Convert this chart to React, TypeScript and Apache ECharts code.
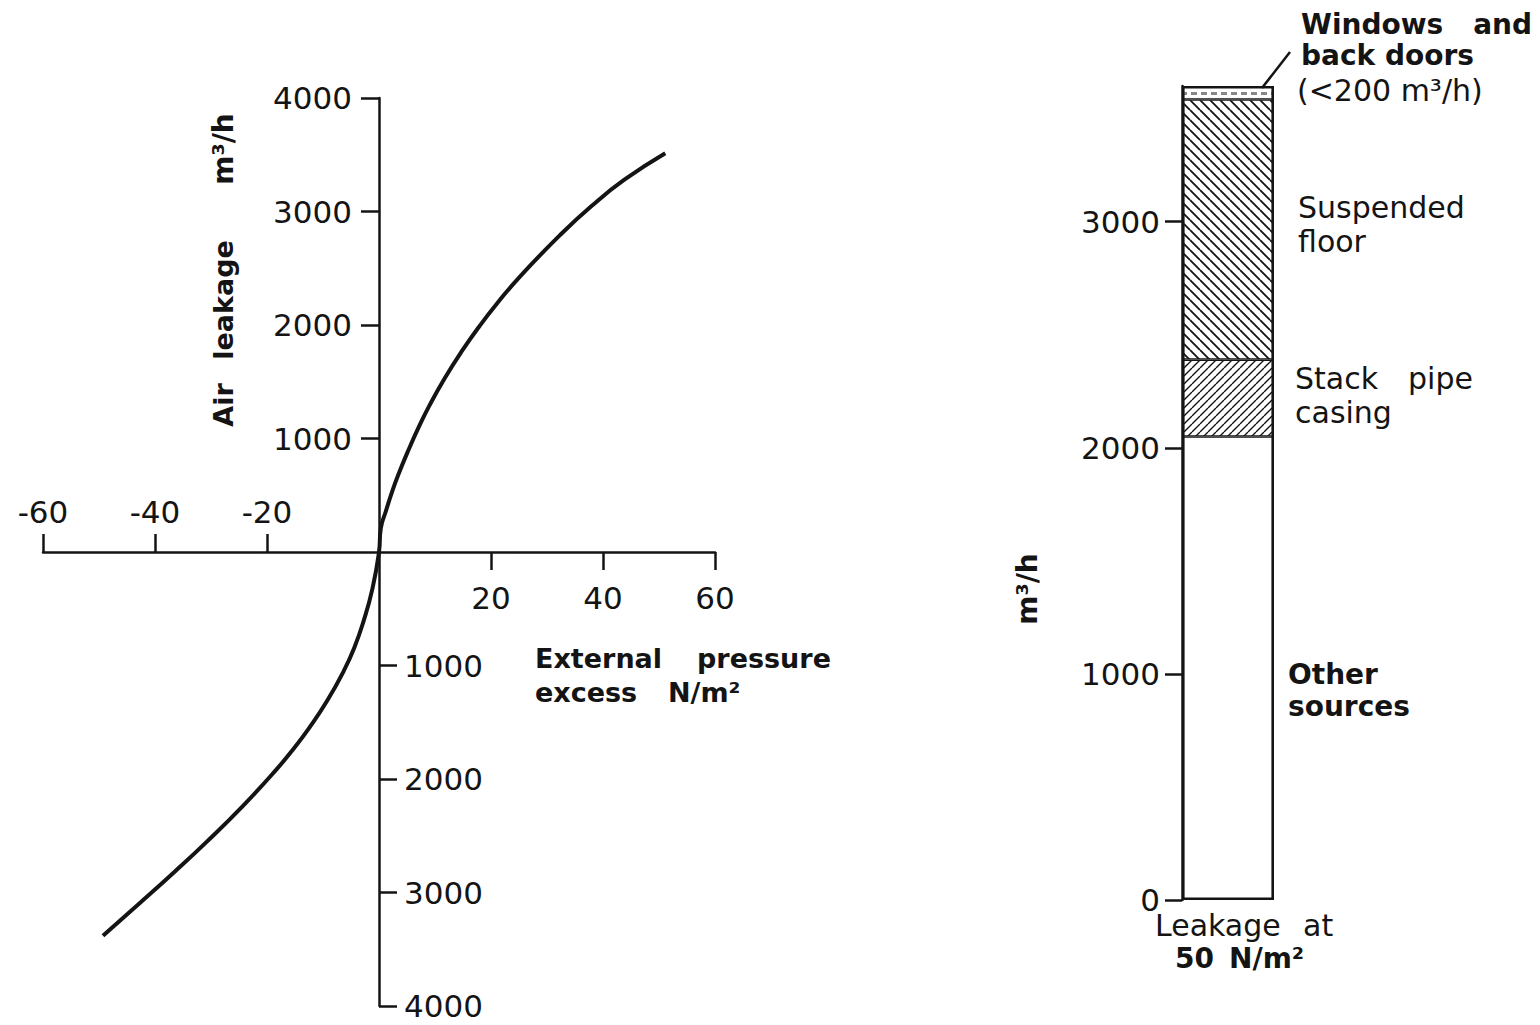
import React, { useEffect, useRef } from "react";
import * as echarts from "echarts";

// Left chart: air leakage (m³/h) against external pressure excess (N/m²)
const pressure = [-49.29, -42.5, -36.54, -30.78, -24.2, -18.3, -15.14, -12.49, -9.26, -6.3, -4.43, -2.78, -1.17, 0, 0.32, 1.22, 2.39, 3.46, 5.26, 7.05, 9.02, 11.71, 14.76, 17.99, 21.04, 25.17, 32.34, 37.9, 43.82, 51.12];
const leakage = [-3381, -3084, -2819, -2554, -2232, -1915, -1726, -1552, -1311, -1049, -846, -613, -323, 0, 207, 359, 539, 683, 898, 1095, 1292, 1529, 1767, 1993, 2187, 2427, 2793, 3046, 3280, 3514];

const xTicksNeg = [-60, -40, -20];
const xTicksPos = [20, 40, 60];
const yTicksPos = [1000, 2000, 3000, 4000];
const yTicksNeg = [-1000, -2000, -3000, -4000];

// Right chart: breakdown of leakage at 50 N/m²
const barCategory = ["Leakage at 50 N/m²"];
const sourceNames = ["Other sources", "Stack pipe casing", "Suspended floor", "Windows and back doors"];
const sourceValues = [2050, 340, 1150, 60];
const barTicks = [0, 1000, 2000, 3000];

const F = "'DejaVu Sans', sans-serif";
const INK = "#141414";

function hatch(dir: number, s: number, lw: number) {
  const c = document.createElement("canvas");
  c.width = s;
  c.height = s;
  const g = c.getContext("2d")!;
  g.fillStyle = "#fff";
  g.fillRect(0, 0, s, s);
  g.strokeStyle = INK;
  g.lineWidth = lw;
  g.beginPath();
  for (const k of [-s, 0, s]) {
    if (dir === 1) {
      g.moveTo(0, k);
      g.lineTo(s, s + k);
    } else {
      g.moveTo(0, s + k);
      g.lineTo(s, k);
    }
  }
  g.stroke();
  return { image: c.toDataURL(), repeat: "repeat", imageWidth: s, imageHeight: s };
}

function dashStrip() {
  const w = 10, h = 13;
  const c = document.createElement("canvas");
  c.width = w;
  c.height = h;
  const g = c.getContext("2d")!;
  g.fillStyle = "#fff";
  g.fillRect(0, 0, w, h);
  g.fillStyle = "#888";
  g.fillRect(1, 1, 6, 3);
  return { image: c.toDataURL(), repeat: "repeat", imageWidth: w, imageHeight: h };
}

function txt(text: string, x: number, y: number, o: any = {}) {
  const align = o.align || "left";
  return {
    type: "text",
    x,
    y,
    rotation: o.rot || 0,
    silent: true,
    z: 10,
    style: {
      text,
      fill: INK,
      fontSize: o.size || 30,
      fontFamily: F,
      fontWeight: o.bold ? "bold" : "normal",
      align,
      textAlign: align,
      verticalAlign: "middle",
      textVerticalAlign: "middle",
    },
  };
}

export default function App() {
  const ref = useRef<HTMLDivElement>(null);

  useEffect(() => {
    document.body.style.margin = "0";
    const chart = echarts.init(ref.current!, undefined, { renderer: "svg" });
    const lineStyle = { color: INK, width: 2.5 };
    const numLabel = { color: INK, fontSize: 31, fontFamily: F, formatter: (v: number) => String(Math.abs(v)) };

    const axisX = (ticks: number[], inside: boolean, margin: number, showLine: boolean) => ({
      type: "value",
      gridIndex: 1,
      position: "bottom",
      min: -60,
      max: 60,
      interval: 20,
      splitLine: { show: false },
      axisLine: { show: showLine, onZero: false, lineStyle },
      axisTick: { show: true, inside, customValues: ticks, length: 18, lineStyle },
      axisLabel: { ...numLabel, inside, customValues: ticks, margin, formatter: (v: number) => String(v) },
    });
    const axisY = (ticks: number[], inside: boolean, margin: number, showLine: boolean) => ({
      type: "value",
      gridIndex: 2,
      position: "left",
      min: -4000,
      max: 4000,
      interval: 1000,
      splitLine: { show: false },
      axisLine: { show: showLine, onZero: false, lineStyle },
      axisTick: { show: true, inside, customValues: ticks, length: 18, lineStyle },
      axisLabel: { ...numLabel, inside, customValues: ticks, margin },
    });
    const hidden = (gridIndex: number, min: number, max: number) => ({
      type: "value",
      gridIndex,
      min,
      max,
      show: false,
      splitLine: { show: false },
    });

    const patterns = ["#fff", hatch(-1, 8, 1.4), hatch(1, 10, 1.8), dashStrip()];
    const total = sourceValues.reduce((a, b) => a + b, 0);

    const option: any = {
      animation: false,
      backgroundColor: "#fff",
      grid: [
        { left: 43, width: 672, top: 98, height: 908, outerBoundsMode: "none" },
        { left: 43, width: 672, top: 98, height: 454, outerBoundsMode: "none" },
        { left: 379, width: 336, top: 98, height: 908, outerBoundsMode: "none" },
        { left: 1182, width: 92, top: 86, height: 814, outerBoundsMode: "none" },
      ],
      xAxis: [
        hidden(0, -60, 60),
        axisX(xTicksNeg, true, 25, true),
        axisX(xTicksPos, false, 30, false),
        hidden(2, 0, 60),
        { type: "category", gridIndex: 3, data: barCategory, show: false },
      ],
      yAxis: [
        hidden(0, -4000, 4000),
        hidden(1, 0, 4000),
        axisY(yTicksPos, false, 27, true),
        axisY(yTicksNeg, true, 25, false),
        {
          type: "value",
          gridIndex: 3,
          min: 0,
          max: 3600,
          interval: 1000,
          splitLine: { show: false },
          axisLine: { show: true, lineStyle },
          axisTick: { show: true, customValues: barTicks, length: 17, lineStyle },
          axisLabel: { ...numLabel, customValues: barTicks, margin: 22 },
        },
      ],
      series: [
        {
          type: "line",
          name: "Air leakage",
          xAxisIndex: 0,
          yAxisIndex: 0,
          data: pressure.map((p, i) => [p, leakage[i]]),
          smooth: 0.5,
          showSymbol: false,
          symbol: "none",
          clip: false,
          lineStyle: { color: INK, width: 4 },
          z: 5,
        },
        ...sourceNames.map((name, i) => ({
          type: "bar",
          name,
          xAxisIndex: 4,
          yAxisIndex: 4,
          stack: "sources",
          barWidth: "100%",
          barGap: "-100%",
          barCategoryGap: 0,
          data: [sourceValues[i]],
          itemStyle: { color: patterns[i], borderColor: INK, borderWidth: 1.3 },
        })),
        {
          type: "bar",
          name: "Total",
          xAxisIndex: 4,
          yAxisIndex: 4,
          barWidth: "100%",
          barGap: "-100%",
          barCategoryGap: 0,
          silent: true,
          z: 3,
          data: [total],
          itemStyle: { color: "rgba(0,0,0,0)", borderColor: INK, borderWidth: 2.6 },
        },
      ],
      graphic: [
        // left chart titles
        txt("Air", 223, 405, { rot: Math.PI / 2, bold: true, size: 27, align: "center" }),
        txt("leakage", 223, 300, { rot: Math.PI / 2, bold: true, size: 27, align: "center" }),
        txt("m³/h", 223, 149, { rot: Math.PI / 2, bold: true, size: 28, align: "center" }),
        txt("External", 535, 658, { bold: true, size: 27 }),
        txt("pressure", 697, 658, { bold: true, size: 27 }),
        txt("excess", 535, 692, { bold: true, size: 27 }),
        txt("N/m²", 668, 692, { bold: true, size: 27 }),
        // right chart
        txt("m³/h", 1027, 589, { rot: Math.PI / 2, bold: true, size: 28, align: "center" }),
        txt("Windows", 1301, 24, { bold: true, size: 28 }),
        txt("and", 1532, 24, { bold: true, size: 28, align: "right" }),
        txt("back", 1301, 55, { bold: true, size: 28 }),
        txt("doors", 1385, 55, { bold: true, size: 28 }),
        txt("(<200 m³/h)", 1297, 90, {}),
        txt("Suspended", 1298, 207, {}),
        txt("floor", 1298, 241, {}),
        txt("Stack", 1295, 378, {}),
        txt("pipe", 1408, 378, {}),
        txt("casing", 1295, 412, {}),
        txt("Other", 1288, 674, { bold: true, size: 28 }),
        txt("sources", 1288, 706, { bold: true, size: 28 }),
        txt("Leakage", 1155, 925, {}),
        txt("at", 1303, 925, {}),
        txt("50", 1175, 958, { bold: true, size: 28 }),
        txt("N/m²", 1229, 958, { bold: true, size: 28 }),
        {
          type: "line",
          silent: true,
          z: 10,
          shape: { x1: 1262, y1: 88, x2: 1290, y2: 52 },
          style: { stroke: INK, lineWidth: 2.5 },
        },
      ],
    };
    chart.setOption(option);
    return () => chart.dispose();
  }, []);

  return (
    <div
      ref={ref}
      style={{ position: "absolute", left: 0, top: 0, width: 1540, height: 1025, background: "#fff" }}
    />
  );
}
